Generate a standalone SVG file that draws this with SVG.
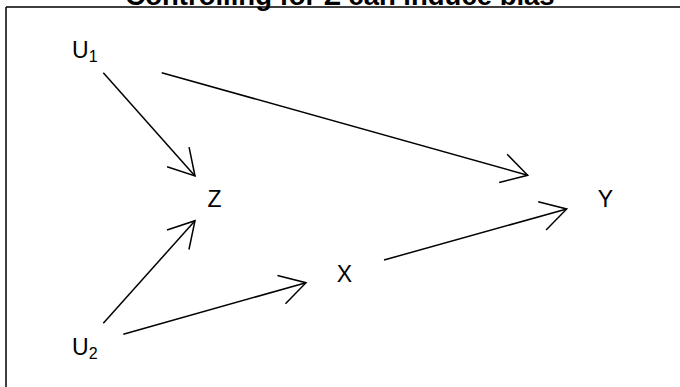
<svg xmlns="http://www.w3.org/2000/svg" width="680" height="387" viewBox="0 0 680 387">
<style>
text{font-family:"Liberation Sans",Arial,sans-serif;fill:#000}
.lab{font-size:23px}
.sub{font-size:16px}
.title{font-size:27.5px;font-weight:bold}
.edge{stroke:#000;stroke-width:1.5;fill:none}
</style>
<defs>
<marker id="ah" markerUnits="userSpaceOnUse" markerWidth="40" markerHeight="40" refX="0" refY="0" viewBox="-30 -20 40 40" orient="auto" overflow="visible">
<path d="M-25.5,-14.7 L0,0 L-25.5,14.7" stroke="#000" stroke-width="1.5" fill="none"/>
</marker>
</defs>
<rect width="680" height="387" fill="#fff"/>
<text class="title" x="340" y="5" text-anchor="middle">Controlling for Z can induce bias</text>
<path d="M6,7 H680 M6,7 V387" stroke="#000" stroke-width="1.5" fill="none"/>
<g id="connectors">
<line class="edge" x1="103.3" y1="72.7" x2="195" y2="176" marker-end="url(#ah)"/>
<line class="edge" x1="161.7" y1="72.7" x2="527.7" y2="175.3" marker-end="url(#ah)"/>
<line class="edge" x1="103.3" y1="323.3" x2="195" y2="220.7" marker-end="url(#ah)"/>
<line class="edge" x1="123.3" y1="334.3" x2="306" y2="282.7" marker-end="url(#ah)"/>
<line class="edge" x1="384" y1="260" x2="566.7" y2="209" marker-end="url(#ah)"/>
</g>
<g id="node-U1"><text class="lab" x="72" y="58">U<tspan class="sub" dy="4">1</tspan></text></g>
<g id="node-U2"><text class="lab" x="72" y="355">U<tspan class="sub" dy="4">2</tspan></text></g>
<g id="node-Z"><text class="lab" x="214.5" y="207" text-anchor="middle">Z</text></g>
<g id="node-X"><text class="lab" x="344.5" y="282" text-anchor="middle">X</text></g>
<g id="node-Y"><text class="lab" x="605.5" y="207" text-anchor="middle">Y</text></g>
</svg>
